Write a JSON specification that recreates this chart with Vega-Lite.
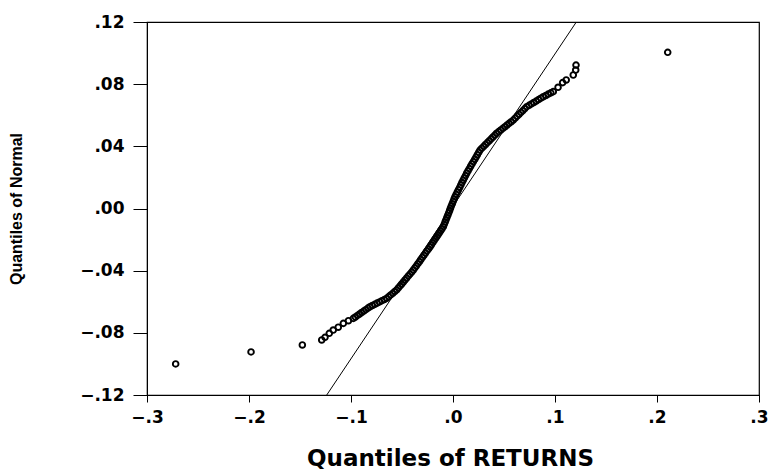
{
  "$schema": "https://vega.github.io/schema/vega-lite/v6.json",
  "width": 612,
  "height": 373,
  "autosize": {"type": "none"},
  "padding": {"left": 147, "top": 22, "right": 10, "bottom": 75},
  "background": "white",
  "config": {
    "view": {"stroke": "black", "strokeWidth": 1.2},
    "axis": {
      "grid": false,
      "domainColor": "black",
      "tickColor": "black",
      "labelColor": "black",
      "titleColor": "black",
      "labelFont": "DejaVu Sans",
      "labelFontWeight": "bold",
      "labelFontSize": 17,
      "labelFlush": false,
      "labelOverlap": false
    }
  },
  "datasets": {
    "pts": [
      {"x": -0.2719, "y": -0.1000},
      {"x": -0.1980, "y": -0.0923},
      {"x": -0.1477, "y": -0.0878},
      {"x": -0.1287, "y": -0.0846},
      {"x": -0.1255, "y": -0.0829},
      {"x": -0.1213, "y": -0.0803},
      {"x": -0.1174, "y": -0.0782},
      {"x": -0.1125, "y": -0.0764},
      {"x": -0.1075, "y": -0.0739},
      {"x": -0.1025, "y": -0.0722},
      {"x": -0.0977, "y": -0.0707},
      {"x": -0.0957, "y": -0.0698},
      {"x": -0.0936, "y": -0.0688},
      {"x": -0.0916, "y": -0.0679},
      {"x": -0.0896, "y": -0.0669},
      {"x": -0.0875, "y": -0.0660},
      {"x": -0.0855, "y": -0.0651},
      {"x": -0.0834, "y": -0.0641},
      {"x": -0.0814, "y": -0.0632},
      {"x": -0.0791, "y": -0.0624},
      {"x": -0.0767, "y": -0.0617},
      {"x": -0.0744, "y": -0.0609},
      {"x": -0.0720, "y": -0.0601},
      {"x": -0.0697, "y": -0.0593},
      {"x": -0.0673, "y": -0.0586},
      {"x": -0.0650, "y": -0.0578},
      {"x": -0.0630, "y": -0.0567},
      {"x": -0.0611, "y": -0.0556},
      {"x": -0.0591, "y": -0.0546},
      {"x": -0.0572, "y": -0.0535},
      {"x": -0.0552, "y": -0.0524},
      {"x": -0.0536, "y": -0.0511},
      {"x": -0.0519, "y": -0.0498},
      {"x": -0.0503, "y": -0.0486},
      {"x": -0.0487, "y": -0.0473},
      {"x": -0.0471, "y": -0.0460},
      {"x": -0.0454, "y": -0.0447},
      {"x": -0.0438, "y": -0.0434},
      {"x": -0.0422, "y": -0.0422},
      {"x": -0.0405, "y": -0.0409},
      {"x": -0.0389, "y": -0.0396},
      {"x": -0.0374, "y": -0.0382},
      {"x": -0.0359, "y": -0.0369},
      {"x": -0.0344, "y": -0.0355},
      {"x": -0.0329, "y": -0.0342},
      {"x": -0.0315, "y": -0.0328},
      {"x": -0.0300, "y": -0.0314},
      {"x": -0.0285, "y": -0.0301},
      {"x": -0.0270, "y": -0.0287},
      {"x": -0.0255, "y": -0.0273},
      {"x": -0.0240, "y": -0.0260},
      {"x": -0.0225, "y": -0.0246},
      {"x": -0.0212, "y": -0.0233},
      {"x": -0.0199, "y": -0.0220},
      {"x": -0.0186, "y": -0.0207},
      {"x": -0.0173, "y": -0.0194},
      {"x": -0.0160, "y": -0.0182},
      {"x": -0.0147, "y": -0.0169},
      {"x": -0.0134, "y": -0.0156},
      {"x": -0.0121, "y": -0.0143},
      {"x": -0.0108, "y": -0.0130},
      {"x": -0.0095, "y": -0.0117},
      {"x": -0.0086, "y": -0.0102},
      {"x": -0.0077, "y": -0.0087},
      {"x": -0.0069, "y": -0.0073},
      {"x": -0.0060, "y": -0.0058},
      {"x": -0.0051, "y": -0.0043},
      {"x": -0.0042, "y": -0.0028},
      {"x": -0.0033, "y": -0.0013},
      {"x": -0.0025, "y": 0.0002},
      {"x": -0.0016, "y": 0.0017},
      {"x": -0.0007, "y": 0.0031},
      {"x": 0.0002, "y": 0.0046},
      {"x": 0.0011, "y": 0.0061},
      {"x": 0.0020, "y": 0.0076},
      {"x": 0.0031, "y": 0.0091},
      {"x": 0.0043, "y": 0.0106},
      {"x": 0.0054, "y": 0.0121},
      {"x": 0.0066, "y": 0.0136},
      {"x": 0.0077, "y": 0.0152},
      {"x": 0.0088, "y": 0.0167},
      {"x": 0.0100, "y": 0.0182},
      {"x": 0.0111, "y": 0.0197},
      {"x": 0.0123, "y": 0.0212},
      {"x": 0.0134, "y": 0.0227},
      {"x": 0.0147, "y": 0.0242},
      {"x": 0.0160, "y": 0.0257},
      {"x": 0.0173, "y": 0.0272},
      {"x": 0.0186, "y": 0.0287},
      {"x": 0.0200, "y": 0.0302},
      {"x": 0.0213, "y": 0.0316},
      {"x": 0.0226, "y": 0.0331},
      {"x": 0.0239, "y": 0.0346},
      {"x": 0.0252, "y": 0.0361},
      {"x": 0.0265, "y": 0.0376},
      {"x": 0.0283, "y": 0.0388},
      {"x": 0.0301, "y": 0.0400},
      {"x": 0.0319, "y": 0.0412},
      {"x": 0.0337, "y": 0.0424},
      {"x": 0.0356, "y": 0.0436},
      {"x": 0.0374, "y": 0.0448},
      {"x": 0.0392, "y": 0.0460},
      {"x": 0.0410, "y": 0.0472},
      {"x": 0.0428, "y": 0.0484},
      {"x": 0.0448, "y": 0.0495},
      {"x": 0.0469, "y": 0.0505},
      {"x": 0.0489, "y": 0.0516},
      {"x": 0.0510, "y": 0.0526},
      {"x": 0.0530, "y": 0.0537},
      {"x": 0.0550, "y": 0.0548},
      {"x": 0.0571, "y": 0.0558},
      {"x": 0.0591, "y": 0.0569},
      {"x": 0.0610, "y": 0.0581},
      {"x": 0.0629, "y": 0.0594},
      {"x": 0.0648, "y": 0.0606},
      {"x": 0.0666, "y": 0.0618},
      {"x": 0.0685, "y": 0.0630},
      {"x": 0.0704, "y": 0.0643},
      {"x": 0.0723, "y": 0.0655},
      {"x": 0.0746, "y": 0.0664},
      {"x": 0.0769, "y": 0.0673},
      {"x": 0.0792, "y": 0.0682},
      {"x": 0.0816, "y": 0.0691},
      {"x": 0.0839, "y": 0.0701},
      {"x": 0.0862, "y": 0.0710},
      {"x": 0.0885, "y": 0.0719},
      {"x": 0.0910, "y": 0.0727},
      {"x": 0.0934, "y": 0.0736},
      {"x": 0.0959, "y": 0.0744},
      {"x": 0.0983, "y": 0.0752},
      {"x": 0.1030, "y": 0.0780},
      {"x": 0.1075, "y": 0.0810},
      {"x": 0.1110, "y": 0.0827},
      {"x": 0.1179, "y": 0.0859},
      {"x": 0.1203, "y": 0.0891},
      {"x": 0.1206, "y": 0.0923},
      {"x": 0.2105, "y": 0.1005}
    ],
    "ref": [
      {"x": -0.1238, "y": -0.12},
      {"x": 0.1209, "y": 0.12}
    ]
  },
  "layer": [
    {
      "data": {"name": "ref"},
      "mark": {"type": "line", "color": "black", "strokeWidth": 1},
      "encoding": {
        "x": {
          "field": "x", "type": "quantitative",
          "scale": {"domain": [-0.3, 0.3], "nice": false, "zero": false},
          "axis": {
            "values": [-0.3, -0.2, -0.1, 0, 0.1, 0.2, 0.3],
            "labelExpr": "replace(format(datum.value, '.1f'), '0.', '.')",
            "tickSize": 7,
            "labelPadding": 7,
            "title": "Quantiles of RETURNS",
            "titleFont": "DejaVu Sans",
            "titleFontWeight": "bold",
            "titleFontSize": 23,
            "titleX": 303,
            "titleY": 70,
            "titleAlign": "center",
            "titleBaseline": "alphabetic"
          }
        },
        "y": {
          "field": "y", "type": "quantitative",
          "scale": {"domain": [-0.12, 0.12], "nice": false, "zero": false},
          "axis": {
            "values": [-0.12, -0.08, -0.04, 0, 0.04, 0.08, 0.12],
            "labelExpr": "replace(format(datum.value, '.2f'), '0.', '.')",
            "tickSize": 14,
            "labelPadding": 9,
            "labelBaseline": "middle",
            "title": "Quantiles of Normal",
            "titleFont": "Liberation Sans",
            "titleFontWeight": "bold",
            "titleFontSize": 16,
            "titleAngle": -90,
            "titleX": -131,
            "titleY": 186.5,
            "titleAlign": "center",
            "titleBaseline": "middle"
          }
        }
      }
    },
    {
      "data": {"name": "pts"},
      "mark": {"type": "point", "shape": "circle", "filled": false, "color": "black", "strokeWidth": 1.9, "size": 32, "opacity": 1},
      "encoding": {
        "x": {"field": "x", "type": "quantitative"},
        "y": {"field": "y", "type": "quantitative"}
      }
    }
  ]
}
